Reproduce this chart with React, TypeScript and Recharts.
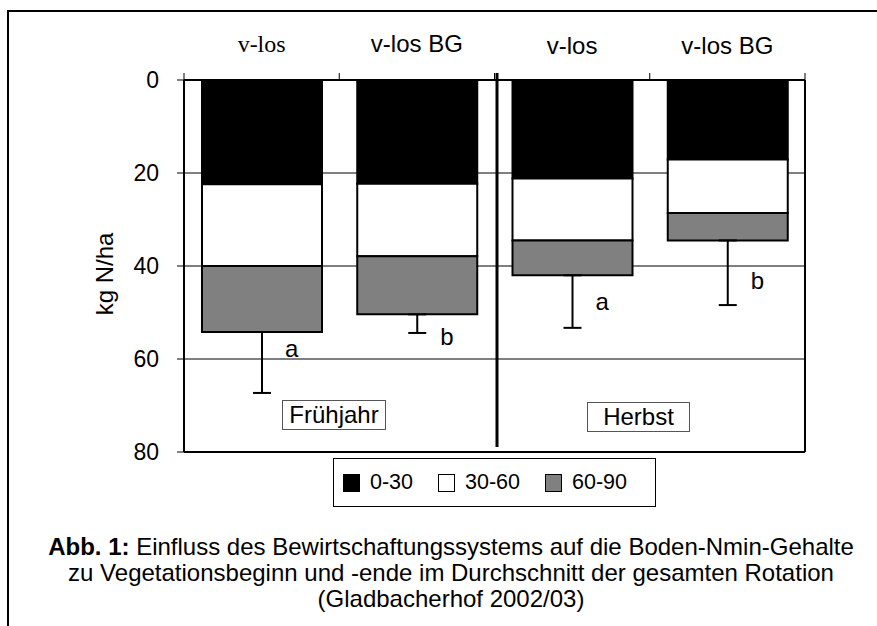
import {
  ComposedChart,
  Bar,
  Line,
  XAxis,
  YAxis,
  CartesianGrid,
  ErrorBar,
  ReferenceLine,
} from "recharts";

const SANS = "'Liberation Sans', Arial, sans-serif";
const SERIF = "'Liberation Serif', 'Times New Roman', serif";

const seasons = ["Frühjahr", "Frühjahr", "Herbst", "Herbst"];
const variants = ["v-los", "v-los BG", "v-los", "v-los BG"];
const layer0to30 = [22.4, 22.3, 21.2, 17.1];
const layer30to60 = [17.6, 15.6, 13.3, 11.5];
const layer60to90 = [14.2, 12.5, 7.5, 5.9];
const sdDown = [13.1, 4.0, 11.3, 13.9];
const letters = ["a", "b", "a", "b"];
const letterDepth = [57.7, 55.1, 47.7, 43.1];
const yTicks = [0, 20, 40, 60, 80];
const layerNames = ["0-30", "30-60", "60-90"];
const layerColors = ["#000000", "#ffffff", "#808080"];

const data = variants.map((v, i) => ({
  key: `${seasons[i]} ${v}`,
  d0: layer0to30[i],
  d1: layer30to60[i],
  d2: layer60to90[i],
  err: [0, sdDown[i]],
  letterY: letterDepth[i],
}));

// plot box: x 184..805, y 80..452
const BAND = (805 - 184) / 4;

function TopTick(props: any) {
  const { x, index } = props;
  return (
    <g>
      <line x1={x - BAND / 2} y1={73} x2={x - BAND / 2} y2={80} stroke="#000" />
      {index === variants.length - 1 && (
        <line x1={x + BAND / 2} y1={73} x2={x + BAND / 2} y2={80} stroke="#000" />
      )}
      <text
        x={x}
        y={index < 2 ? 52 : 54}
        textAnchor="middle"
        fontSize={24}
        fontFamily={index === 0 ? SERIF : SANS}
        fill="#000"
      >
        {variants[index]}
      </text>
    </g>
  );
}

function LetterDot(props: any) {
  const { cx, cy, index } = props;
  return (
    <text key={index} x={cx + 30} y={cy} dy="0.35em" textAnchor="middle" fontSize={24} fontFamily={SANS} fill="#000">
      {letters[index]}
    </text>
  );
}

// the season divider sits a little right of the band edge and stops short of the frame
function Divider(props: any) {
  const { x1, x2 } = props;
  return <line x1={x1 + 2.5} y1={73} x2={x2 + 2.5} y2={447} stroke="#000" strokeWidth={3} />;
}

const boxStyle = {
  position: "absolute" as const,
  border: "1px solid #555",
  background: "#fff",
  fontSize: 24,
  fontFamily: SANS,
  textAlign: "center" as const,
  lineHeight: "28px",
  height: 28,
};

export default function App() {
  return (
    <div style={{ position: "absolute", left: 0, top: 0, width: 877, height: 626, background: "#fff", overflow: "hidden" }}>
      <div
        style={{
          position: "absolute",
          left: 7,
          top: 10,
          width: 880,
          height: 630,
          borderTop: "2px solid #000",
          borderLeft: "2px solid #000",
        }}
      />
      <ComposedChart
        width={877}
        height={626}
        data={data}
        margin={{ top: 0, right: 72, bottom: 174, left: 0 }}
        style={{ position: "absolute", left: 0, top: 0 }}
      >
        <CartesianGrid vertical={false} stroke="#000" strokeWidth={1} />
        <XAxis
          dataKey="key"
          orientation="top"
          height={80}
          interval={0}
          tickLine={false}
          axisLine={{ stroke: "#000", strokeWidth: 2 }}
          tick={<TopTick />}
        />
        <YAxis
          reversed
          domain={[0, 80]}
          ticks={yTicks}
          interval={0}
          width={184}
          tickSize={7}
          tickMargin={18}
          axisLine={{ stroke: "#000", strokeWidth: 2 }}
          tickLine={{ stroke: "#000" }}
          tick={{ fill: "#000", fontSize: 23, fontFamily: SANS }}
          label={() => (
            <text
              x={104}
              y={274}
              transform="rotate(-90 104 274)"
              textAnchor="middle"
              dominantBaseline="central"
              fontSize={24}
              fontFamily={SANS}
              fill="#000"
            >
              kg N/ha
            </text>
          )}
        />
        <Bar dataKey="d0" stackId="s" fill={layerColors[0]} stroke="#000" strokeWidth={2} barSize={120} isAnimationActive={false} />
        <Bar dataKey="d1" stackId="s" fill={layerColors[1]} stroke="#000" strokeWidth={2} barSize={120} isAnimationActive={false} />
        <Bar dataKey="d2" stackId="s" fill={layerColors[2]} stroke="#000" strokeWidth={2} barSize={120} isAnimationActive={false}>
          <ErrorBar dataKey="err" direction="y" width={9} stroke="#000" strokeWidth={2} isAnimationActive={false} />
        </Bar>
        <Line
          dataKey="letterY"
          stroke="none"
          dot={LetterDot}
          activeDot={false}
          legendType="none"
          isAnimationActive={false}
        />
        <ReferenceLine y={80} stroke="#000" strokeWidth={2} />
        <ReferenceLine x={data[3].key} position="end" stroke="#000" strokeWidth={2} />
        <ReferenceLine x={data[2].key} position="start" shape={Divider} />
      </ComposedChart>

      <div style={{ ...boxStyle, left: 282, top: 400, width: 102 }}>{seasons[0]}</div>
      <div style={{ ...boxStyle, left: 587, top: 402, width: 101 }}>{seasons[2]}</div>

      <div
        style={{
          position: "absolute",
          left: 333,
          top: 458,
          width: 312,
          height: 47,
          border: "1px solid #000",
          display: "flex",
          alignItems: "center",
          paddingLeft: 9,
          boxSizing: "content-box",
          fontFamily: SANS,
          fontSize: 21.5,
        }}
      >
        {layerNames.map((n, i) => (
          <div key={n} style={{ display: "flex", alignItems: "center", marginRight: 25 }}>
            <span
              style={{
                display: "inline-block",
                width: 15,
                height: 16,
                background: layerColors[i],
                border: "1px solid #000",
                marginRight: 10,
              }}
            />
            <span>{n}</span>
          </div>
        ))}
      </div>

      <div
        style={{
          position: "absolute",
          left: 21,
          top: 534,
          width: 860,
          textAlign: "center",
          fontFamily: SANS,
          fontSize: 24,
          lineHeight: "26px",
          color: "#000",
        }}
      >
        <div>
          <b>Abb. 1:</b> Einfluss des Bewirtschaftungssystems auf die Boden-Nmin-Gehalte
        </div>
        <div>zu Vegetationsbeginn und -ende im Durchschnitt der gesamten Rotation</div>
        <div>(Gladbacherhof 2002/03)</div>
      </div>
    </div>
  );
}
